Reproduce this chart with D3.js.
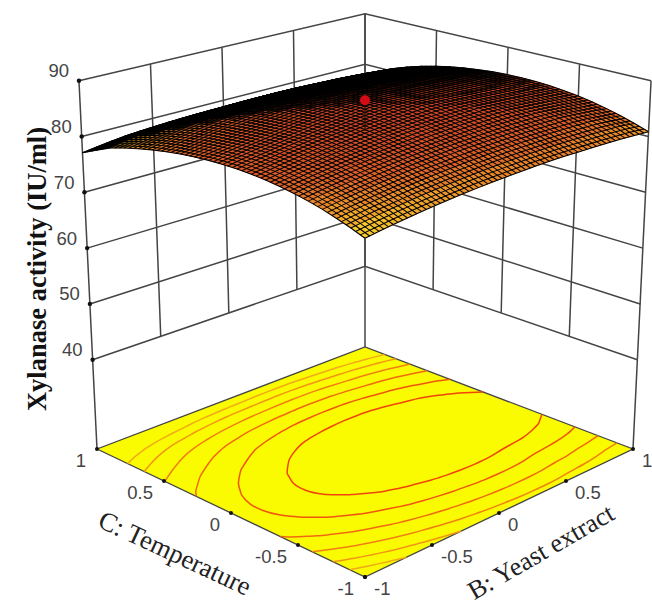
<!DOCTYPE html>
<html>
<head>
<meta charset="utf-8">
<script src="https://cdn.jsdelivr.net/npm/d3@7"></script>
<style>
body { margin: 0; background: #fff; }
text { font-family: "Liberation Sans", Arial, sans-serif; }
</style>
</head>
<body>
<div id="chart"></div>
<script>
// coded factor levels and axis ticks
var yeastLevels = d3.range(21).map(d => (d - 10) / 10);
var tempLevels = d3.range(21).map(d => (d - 10) / 10);
var floorTicks = [-1, -0.5, 0, 0.5, 1];
var zTicks = [40, 50, 60, 70, 80, 90];
var contourLevels = [79.9, 80.85, 81.85, 82.85, 83.8, 84.65];

// design point in the middle of the cube
var designPoint = { b: 0, c: 0, z: 86.5, dropTo: 81 };

// activity, one row per temperature level (-1 .. 1), columns yeast extract (-1 .. 1)
var activity = [
[78.90,79.25,79.58,79.88,80.15,80.40,80.62,80.82,80.99,81.13,81.25,81.34,81.41,81.45,81.46,81.42,81.35,81.29,81.18,81.03,80.85],
[79.79,80.14,80.47,80.77,81.03,81.28,81.50,81.70,81.86,82.00,82.12,82.21,82.28,82.31,82.32,82.28,82.21,82.14,82.03,81.88,81.70],
[80.58,80.93,81.26,81.55,81.82,82.06,82.28,82.47,82.64,82.77,82.89,82.98,83.04,83.08,83.08,83.04,82.96,82.90,82.78,82.63,82.45],
[81.29,81.63,81.95,82.25,82.51,82.75,82.97,83.16,83.32,83.46,83.57,83.65,83.72,83.75,83.75,83.71,83.63,83.56,83.45,83.29,83.10],
[81.88,82.22,82.54,82.83,83.09,83.33,83.55,83.74,83.90,84.03,84.14,84.22,84.28,84.31,84.31,84.27,84.19,84.12,84.00,83.84,83.65],
[82.37,82.71,83.03,83.32,83.58,83.82,84.02,84.21,84.37,84.50,84.61,84.69,84.75,84.78,84.78,84.72,84.64,84.57,84.45,84.29,84.10],
[82.76,83.10,83.42,83.70,83.96,84.20,84.40,84.59,84.75,84.87,84.98,85.06,85.11,85.14,85.14,85.08,85.00,84.93,84.80,84.64,84.45],
[83.05,83.39,83.70,83.99,84.24,84.48,84.68,84.87,85.02,85.15,85.25,85.32,85.38,85.40,85.40,85.34,85.26,85.18,85.06,84.89,84.70],
[83.26,83.59,83.90,84.18,84.44,84.67,84.87,85.05,85.21,85.33,85.43,85.50,85.55,85.58,85.57,85.51,85.42,85.35,85.22,85.05,84.85],
[83.35,83.68,83.99,84.27,84.52,84.75,84.95,85.13,85.28,85.40,85.50,85.57,85.62,85.64,85.63,85.57,85.48,85.40,85.27,85.10,84.90],
[83.34,83.67,83.98,84.25,84.50,84.73,84.93,85.11,85.25,85.37,85.47,85.54,85.59,85.60,85.59,85.53,85.44,85.36,85.22,85.05,84.85],
[83.23,83.56,83.86,84.14,84.39,84.61,84.81,84.98,85.13,85.24,85.34,85.41,85.45,85.47,85.45,85.39,85.29,85.21,85.08,84.90,84.70],
[83.02,83.35,83.65,83.92,84.17,84.39,84.59,84.76,84.90,85.02,85.11,85.17,85.22,85.23,85.21,85.15,85.05,84.97,84.83,84.65,84.45],
[82.73,83.05,83.35,83.62,83.86,84.08,84.27,84.45,84.59,84.70,84.79,84.85,84.89,84.90,84.89,84.82,84.72,84.63,84.49,84.31,84.10],
[82.32,82.64,82.94,83.21,83.44,83.66,83.85,84.02,84.16,84.27,84.36,84.42,84.46,84.47,84.45,84.38,84.28,84.18,84.04,83.86,83.65],
[81.81,82.13,82.42,82.69,82.93,83.15,83.33,83.50,83.64,83.74,83.83,83.89,83.92,83.93,83.91,83.83,83.73,83.64,83.50,83.31,83.10],
[81.20,81.51,81.79,82.06,82.28,82.50,82.67,82.84,82.97,83.07,83.15,83.20,83.24,83.24,83.22,83.14,83.04,82.94,82.80,82.61,82.40],
[80.47,80.78,81.05,81.29,81.50,81.70,81.88,82.03,82.15,82.25,82.32,82.37,82.41,82.41,82.38,82.30,82.20,82.10,81.95,81.76,81.55],
[79.67,79.94,80.20,80.42,80.62,80.79,80.95,81.09,81.21,81.29,81.35,81.40,81.43,81.43,81.40,81.32,81.21,81.11,80.96,80.77,80.55],
[78.40,78.80,79.10,79.39,79.55,79.69,79.84,79.97,80.06,80.12,80.17,80.22,80.25,80.24,80.21,80.13,80.02,79.92,79.77,79.57,79.35],
[77.10,77.45,77.80,78.10,78.28,78.43,78.56,78.65,78.73,78.76,78.79,78.84,78.86,78.86,78.82,78.74,78.63,78.52,78.37,78.17,77.95]
];

var svgWidth = 652;
var svgHeight = 605;

var svg = d3.select("#chart")
    .append("svg")
    .attr("width", svgWidth)
    .attr("height", svgHeight);

// the cube view: s = b + c runs from the front corner to the back corner
var heightScale = d3.scaleLinear().domain([24, 90]).range([0, 66]);
var widthScale = d3.scaleLinear().domain([-2, 2]).range([-268, 268]);
var floorY = d3.scaleLinear().domain([-2, 0, 2]).range([577, 449, 347]);
var unitY = d3.scaleLinear().domain([-2, 0, 2]).range([6.17, 5.58, 5.05]);

function project(b, c, z) {
    var h = heightScale(z);
    var s = b + c;
    return [
        365 + widthScale(b - c) * (1 + 0.00102 * h),
        floorY(s) - unitY(s) * h
    ];
}

var line = d3.line();
var floorZ = heightScale.domain()[0];

// walls
var wallGroup = svg.append("g")
    .attr("fill", "none")
    .attr("stroke", "#444")
    .attr("stroke-width", 1.5);

zTicks.forEach(z => {
    wallGroup.append("path").attr("d", line([project(-1, 1, z), project(1, 1, z), project(1, -1, z)]));
});
floorTicks.forEach(t => {
    wallGroup.append("path").attr("d", line([project(t, 1, 40), project(t, 1, 90)]));
    wallGroup.append("path").attr("d", line([project(1, t, 40), project(1, t, 90)]));
});
wallGroup.append("path").attr("d", line([project(-1, 1, floorZ), project(-1, 1, 40)]));
wallGroup.append("path").attr("d", line([project(1, 1, floorZ), project(1, 1, 40)]));
wallGroup.append("path").attr("d", line([project(1, -1, floorZ), project(1, -1, 40)]));

// floor
var corners = [[-1, 1], [-1, -1], [1, -1], [1, 1]].map(d => project(d[0], d[1], floorZ));
svg.append("path")
    .attr("d", line(corners) + "Z")
    .attr("fill", "#fafa00")
    .attr("stroke", "#444")
    .attr("stroke-width", 1.3);

// floor contours from the same table
var gridB = d3.scaleLinear().domain([0.5, 20.5]).range([-1, 1]);
var gridC = d3.scaleLinear().domain([0.5, 20.5]).range([-1, 1]);
var contourColor = d3.scaleLinear().domain([80, 85]).range(["#f2a818", "#f03c08"]);
var contours = d3.contours()
    .size([yeastLevels.length, tempLevels.length])
    .thresholds(contourLevels)(activity.flat());

var smooth = d3.line().curve(d3.curveCatmullRom);
contours.forEach(c => {
    c.coordinates.forEach(poly => poly.forEach(ring => {
        // a ring also runs along the outside of the grid, keep only the part inside
        var runs = [];
        var run = [];
        ring.forEach(p => {
            if (p[0] >= 0.5 && p[0] <= 20.5 && p[1] >= 0.5 && p[1] <= 20.5) {
                run.push(project(gridB(p[0]), gridC(p[1]), floorZ));
            } else if (run.length) {
                runs.push(run);
                run = [];
            }
        });
        if (run.length) runs.push(run);
        runs.forEach(r => {
            svg.append("path")
                .attr("d", smooth(r))
                .attr("fill", "none")
                .attr("stroke", contourColor(c.value))
                .attr("stroke-width", 1.5);
        });
    }));
});

// surface cells, back to front
var colorScale = d3.scaleLinear()
    .domain([78.5, 80, 81.5, 83, 85.7])
    .range(["#fff02a", "#f4b82a", "#ea8c2a", "#dc6028", "#c84024"])
    .clamp(true);

// cells seen nearly edge-on go black, where the mesh lines would close up
var edgeOn = d3.scaleLinear().domain([62, 100]).range([0, 1]).clamp(true);

var surface = activity.map((row, i) => row.map((z, j) => project(yeastLevels[j], tempLevels[i], z)));

var cells = [];
d3.range(20).forEach(i => d3.range(20).forEach(j => {
    var pts = [surface[i][j], surface[i][j + 1], surface[i + 1][j + 1], surface[i + 1][j]];
    var z = (activity[i][j] + activity[i][j + 1] + activity[i + 1][j] + activity[i + 1][j + 1]) / 4;
    cells.push({
        s: yeastLevels[j] + tempLevels[i],
        color: d3.interpolateRgb("#000", colorScale(z))(edgeOn(Math.abs(d3.polygonArea(pts)))),
        pts: pts
    });
}));
cells.sort((a, b) => b.s - a.s);

svg.append("g")
    .selectAll("path")
    .data(cells)
    .enter()
    .append("path")
    .attr("d", d => line(d.pts) + "Z")
    .attr("fill", d => d.color)
    .attr("stroke", d => d.color)
    .attr("stroke-width", 0.6);

// the reference's wire mesh is finer than the table: draw it as a texture on the cells,
// running in screen space between cell edges, it adds no values
var sub = 3;
var meshGroup = svg.append("g")
    .attr("fill", "none")
    .attr("stroke", "#000")
    .attr("stroke-width", 1.05);

function lerp(a, b, f) {
    return [a[0] + (b[0] - a[0]) * f, a[1] + (b[1] - a[1]) * f];
}
d3.range(20 * sub + 1).forEach(r => {
    var k = Math.min(Math.floor(r / sub), 19);
    var f = r / sub - k;
    meshGroup.append("path").attr("d", line(d3.range(21).map(j => lerp(surface[k][j], surface[k + 1][j], f))));
    meshGroup.append("path").attr("d", line(d3.range(21).map(i => lerp(surface[i][k], surface[i][k + 1], f))));
});

// design point with its drop line
var dropLine = [project(designPoint.b, designPoint.c, designPoint.z), project(designPoint.b, designPoint.c, designPoint.dropTo)];
svg.append("path")
    .attr("d", line(dropLine))
    .attr("stroke", "#1c0c04")
    .attr("stroke-width", 1.2);
svg.append("circle")
    .attr("cx", dropLine[0][0])
    .attr("cy", dropLine[0][1])
    .attr("r", 5)
    .attr("fill", "#d40a14");

// tick dots and labels
var dotGroup = svg.append("g").attr("fill", "#111");
var labelGroup = svg.append("g")
    .attr("fill", "#444")
    .attr("font-size", 18.5)
    .attr("dominant-baseline", "central");

zTicks.forEach(z => {
    var p = project(-1, 1, z);
    dotGroup.append("circle").attr("cx", p[0]).attr("cy", p[1]).attr("r", 2.2);
    labelGroup.append("text")
        .attr("x", p[0] - 10)
        .attr("y", p[1] - 10)
        .attr("text-anchor", "end")
        .text(z);
});
floorTicks.forEach(t => {
    var p = project(-1, t, floorZ);
    dotGroup.append("circle").attr("cx", p[0]).attr("cy", p[1]).attr("r", 2);
    labelGroup.append("text")
        .attr("x", p[0] - 11)
        .attr("y", p[1] + 11)
        .attr("text-anchor", "end")
        .text(t);
    var q = project(t, -1, floorZ);
    dotGroup.append("circle").attr("cx", q[0]).attr("cy", q[1]).attr("r", 2);
    labelGroup.append("text")
        .attr("x", q[0] + 9)
        .attr("y", q[1] + 11)
        .text(t);
});

// axis titles
svg.append("text")
    .attr("transform", "translate(175,553) rotate(25)")
    .attr("text-anchor", "middle")
    .attr("dominant-baseline", "central")
    .style("font-family", "'Liberation Serif', serif")
    .attr("font-size", 26.5)
    .attr("fill", "#222")
    .text("C: Temperature");
svg.append("text")
    .attr("transform", "translate(541,552) rotate(-30)")
    .attr("text-anchor", "middle")
    .attr("dominant-baseline", "central")
    .style("font-family", "'Liberation Serif', serif")
    .attr("font-size", 26)
    .attr("fill", "#222")
    .text("B: Yeast extract");
svg.append("text")
    .attr("transform", "translate(37,269) rotate(-90)")
    .attr("text-anchor", "middle")
    .attr("dominant-baseline", "central")
    .style("font-family", "'Liberation Serif', serif")
    .attr("font-weight", "bold")
    .attr("font-size", 26.5)
    .attr("fill", "#111")
    .text("Xylanase activity (IU/ml)");
</script>
</body>
</html>
